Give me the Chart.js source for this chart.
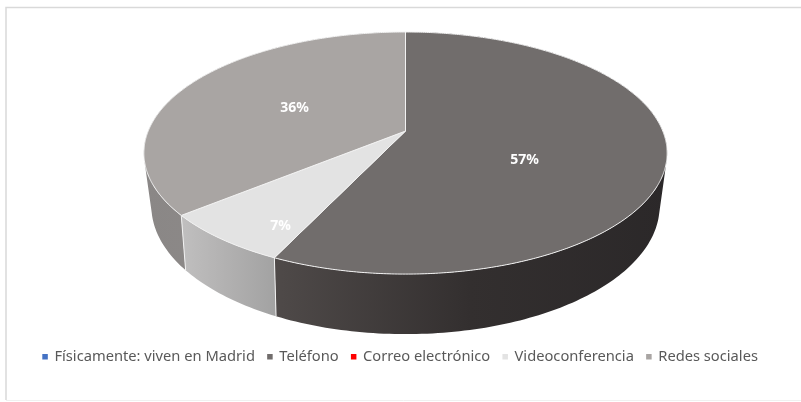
<!DOCTYPE html>
<html>
<head>
    <meta charset="UTF-8">
    <title>Pie</title>
    <script src="https://cdn.jsdelivr.net/npm/chart.js@4/dist/chart.umd.min.js" type="text/javascript"></script>
    <style>
        body { margin: 0; background: #fff; }
        canvas { display: block; }
    </style>
</head>
<body>
    <canvas id="myChart" width="801" height="402"></canvas>
    <script>

        const categories = ["Físicamente: viven en Madrid", "Teléfono", "Correo electrónico", "Videoconferencia", "Redes sociales"];
        const shares = [0, 57, 0, 7, 36];
        const sliceColors = ["#4472c4", "#716d6c", "#ff0000", "#e3e3e3", "#a9a5a3"];

        // wall shading per slice, left, middle and right of the horizontal gradient
        const wallColors = [
            ["#4472c4", "#4472c4", "#4472c4"],
            ["#4f4a49", "#332f2f", "#2b2829"],
            ["#ff0000", "#ff0000", "#ff0000"],
            ["#c0bfbf", "#b1b0b0", "#a2a2a2"],
            ["#8a8786", "#8e8a89", "#8e8a89"]
        ];

        // two tilted circles, top face and lower edge of the disc, in px at a 152.1px radius
        const baseRadius = 152.1;
        const topFace = { ox: 5, oy: -53.1, ax: 257.2, ay: 117, k: 0.1818 };
        const lowFace = { ox: 5, oy: -3.7, ax: 248.9, ay: 122.9, k: 0.2 };

        function project(arc, face, angle) {
            const s = arc.outerRadius / baseRadius;
            const w = 1 - face.k * Math.sin(angle);
            return {
                x: arc.x + s * (face.ox + face.ax * Math.cos(angle) / w),
                y: arc.y + s * (face.oy + face.ay * Math.sin(angle) / w)
            };
        }

        const pie3d = {
            id: "pie3d",
            beforeDraw(chart) {
                const ctx = chart.ctx;
                ctx.save();
                ctx.strokeStyle = "#d9d9d9";
                ctx.lineWidth = 1.5;
                ctx.beginPath();
                ctx.moveTo(801, 7.5);
                ctx.lineTo(6, 7.5);
                ctx.lineTo(6, 400);
                ctx.stroke();
                ctx.strokeStyle = "#f0f0f0";
                ctx.lineWidth = 1;
                ctx.beginPath();
                ctx.moveTo(6, 400.5);
                ctx.lineTo(801, 400.5);
                ctx.stroke();
                ctx.restore();
            },
            beforeDatasetsDraw(chart, args, opts) {
                const ctx = chart.ctx;
                const arcs = chart.getDatasetMeta(0).data;
                const step = Math.PI / 180;

                // side wall
                arcs.forEach((arc, i) => {
                    if (arc.endAngle - arc.startAngle <= 0) return;
                    let minX = Infinity;
                    let maxX = -Infinity;
                    ctx.beginPath();
                    for (let a = arc.startAngle; a < arc.endAngle; a += step) {
                        const b = Math.min(a + step, arc.endAngle);
                        const quad = [project(arc, topFace, a), project(arc, topFace, b), project(arc, lowFace, b), project(arc, lowFace, a)];
                        let area = 0;
                        quad.forEach((p, n) => {
                            const q = quad[(n + 1) % 4];
                            area += p.x * q.y - q.x * p.y;
                            minX = Math.min(minX, p.x);
                            maxX = Math.max(maxX, p.x);
                        });
                        if (area < 0) quad.reverse();
                        ctx.moveTo(quad[0].x, quad[0].y);
                        quad.slice(1).forEach(p => ctx.lineTo(p.x, p.y));
                        ctx.closePath();
                    }
                    const grad = ctx.createLinearGradient(minX, 0, maxX, 0);
                    wallColors[i].forEach((c, n) => grad.addColorStop(n / 2, c));
                    ctx.fillStyle = grad;
                    ctx.fill();
                });

                // white edges where two slices meet on the wall
                ctx.strokeStyle = "#f2f2f2";
                ctx.lineWidth = 1;
                arcs.forEach(arc => {
                    if (arc.endAngle - arc.startAngle <= 0 || Math.sin(arc.endAngle) <= 0) return;
                    const t = project(arc, topFace, arc.endAngle);
                    const l = project(arc, lowFace, arc.endAngle);
                    ctx.beginPath();
                    ctx.moveTo(t.x, t.y);
                    ctx.lineTo(l.x, l.y);
                    ctx.stroke();
                });

                // top face
                arcs.forEach((arc, i) => {
                    if (arc.endAngle - arc.startAngle <= 0) return;
                    const apex = project(arc, { ox: topFace.ox, oy: topFace.oy, ax: 0, ay: 0, k: 0 }, 0);
                    ctx.beginPath();
                    ctx.moveTo(apex.x, apex.y);
                    for (let a = arc.startAngle; a < arc.endAngle; a += step / 2) {
                        const p = project(arc, topFace, a);
                        ctx.lineTo(p.x, p.y);
                    }
                    const end = project(arc, topFace, arc.endAngle);
                    ctx.lineTo(end.x, end.y);
                    ctx.closePath();
                    ctx.fillStyle = sliceColors[i];
                    ctx.fill();
                    ctx.strokeStyle = "#f2f2f2";
                    ctx.lineWidth = 1;
                    ctx.stroke();
                });

                // value labels
                ctx.fillStyle = "#fff";
                ctx.font = "bold 14px 'Noto Sans'";
                ctx.textAlign = "center";
                ctx.textBaseline = "middle";
                shares.forEach((value, i) => {
                    if (!opts.labelAt[i]) return;
                    ctx.fillText(value + "%", opts.labelAt[i][0], opts.labelAt[i][1]);
                });
                return false;
            }
        };

        new Chart(document.getElementById("myChart"), {
            type: "pie",
            data: {
                labels: categories,
                datasets: [{
                    data: shares,
                    backgroundColor: sliceColors,
                    borderWidth: 0
                }]
            },
            options: {
                responsive: false,
                animation: false,
                layout: { padding: { top: 32, bottom: 28 } },
                plugins: {
                    legend: {
                        position: "bottom",
                        labels: {
                            boxWidth: 4,
                            boxHeight: 4,
                            padding: 13,
                            color: "#595959",
                            font: { family: "'Noto Sans'", size: 14.7 },
                            // small box plus a same-coloured outline keeps the text close to the marker
                            generateLabels(chart) {
                                const items = Chart.overrides.doughnut.plugins.legend.labels.generateLabels(chart);
                                items.forEach(item => {
                                    item.lineWidth = 1.5;
                                    item.strokeStyle = item.fillStyle;
                                });
                                return items;
                            }
                        }
                    },
                    tooltip: { enabled: false },
                    pie3d: { labelAt: [null, [524.5, 160], null, [280.5, 226], [294.5, 108]] }
                }
            },
            plugins: [pie3d]
        });
    </script>
</body>
</html>
